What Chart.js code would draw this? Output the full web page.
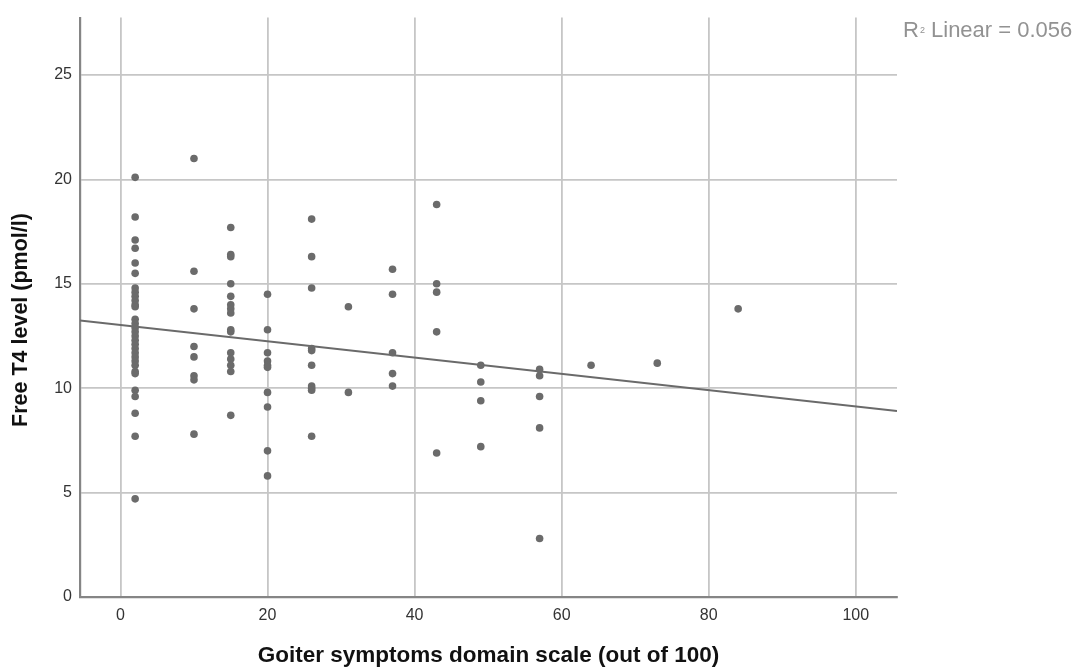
<!DOCTYPE html>
<html>
<head>
<meta charset="utf-8">
<script src="https://cdn.jsdelivr.net/npm/chart.js@4"></script>
<style>
  html, body { margin: 0; padding: 0; background: #ffffff; }
  #wrap { width: 1079px; height: 667px; position: relative; }
</style>
</head>
<body>
<div id="wrap"><canvas id="c" width="1079" height="667"></canvas></div>
<script>
// ---- data ----
const xTitle = 'Goiter symptoms domain scale (out of 100)';
const yTitle = 'Free T4 level (pmol/l)';
const xTicks = [0, 20, 40, 60, 80, 100];
const yTicks = [0, 5, 10, 15, 20, 25];
const xRange = [-5.5, 105.6];
const yRange = [0, 27.75];

const scoreLevels = [2, 10, 15, 20, 26, 31, 37, 43, 49, 57, 64, 73, 84];
const t4AtScore2  = [20.1, 18.2, 17.1, 16.7, 16.0, 15.5, 14.8, 14.6, 14.4, 14.2, 14.0, 13.9, 13.3, 13.1, 12.9, 12.7, 12.5, 12.3, 12.1, 11.9, 11.7, 11.5, 11.3, 11.1, 10.8, 10.7, 9.9, 9.6, 8.8, 7.7, 4.7];
const t4AtScore10 = [21.0, 15.6, 13.8, 12.0, 11.5, 10.6, 10.4, 7.8];
const t4AtScore15 = [17.7, 16.4, 16.3, 15.0, 14.4, 14.0, 13.8, 13.6, 12.8, 12.7, 11.7, 11.4, 11.1, 10.8, 8.7];
const t4AtScore20 = [14.5, 12.8, 11.7, 11.3, 11.1, 11.0, 9.8, 9.1, 7.0, 5.8];
const t4AtScore26 = [18.1, 16.3, 14.8, 11.9, 11.8, 11.1, 10.1, 10.0, 9.9, 7.7];
const t4AtScore31 = [13.9, 9.8];
const t4AtScore37 = [15.7, 14.5, 11.7, 10.7, 10.1];
const t4AtScore43 = [18.8, 15.0, 14.6, 12.7, 6.9];
const t4AtScore49 = [11.1, 10.3, 9.4, 7.2];
const t4AtScore57 = [10.9, 10.6, 9.6, 8.1, 2.8];
const t4AtScore64 = [11.1];
const t4AtScore73 = [11.2];
const t4AtScore84 = [13.8];
const t4Columns = [t4AtScore2, t4AtScore10, t4AtScore15, t4AtScore20, t4AtScore26, t4AtScore31,
                   t4AtScore37, t4AtScore43, t4AtScore49, t4AtScore57, t4AtScore64, t4AtScore73, t4AtScore84];

const fitIntercept = 13.03;
const fitSlope = -0.039;
const rSquaredText = '0.056';

// ---- build datasets ----
const points = [];
scoreLevels.forEach((s, i) => t4Columns[i].forEach(v => points.push({ x: s, y: v })));
const fitLine = xRange.map(x => ({ x: x, y: fitIntercept + fitSlope * x }));

const FONT = "'Liberation Sans', Arial, sans-serif";

const textPlugin = {
  id: 'texts',
  afterDraw(chart) {
    const ctx = chart.ctx;
    ctx.save();
    // R-squared annotation
    ctx.fillStyle = '#929292';
    ctx.textBaseline = 'alphabetic';
    ctx.textAlign = 'left';
    let x = 903, y = 37;
    ctx.font = '22px ' + FONT;
    ctx.fillText('R', x, y);
    x += ctx.measureText('R').width + 1;
    ctx.font = '9px ' + FONT;
    ctx.fillText('2', x, y - 4);
    x += ctx.measureText('2').width;
    ctx.font = '22px ' + FONT;
    ctx.fillText(' Linear = ' + rSquaredText, x, y);
    // y-axis title
    ctx.fillStyle = '#111111';
    ctx.font = 'bold 21.5px ' + FONT;
    ctx.textAlign = 'center';
    ctx.textBaseline = 'middle';
    ctx.translate(21, 320);
    ctx.rotate(-Math.PI / 2);
    ctx.fillText(yTitle, 0, 0);
    ctx.restore();
  }
};

new Chart(document.getElementById('c'), {
  type: 'scatter',
  data: {
    datasets: [
      {
        type: 'line',
        data: fitLine,
        borderColor: '#6a6a6a',
        borderWidth: 2,
        pointRadius: 0,
        fill: false,
        order: 2
      },
      {
        data: points,
        backgroundColor: '#6b6b6b',
        borderColor: '#6b6b6b',
        borderWidth: 0,
        pointRadius: 3.8,
        order: 1
      }
    ]
  },
  options: {
    responsive: false,
    animation: false,
    devicePixelRatio: 1,
    layout: { padding: { top: 12, right: 182, left: 0, bottom: 0 } },
    plugins: { legend: { display: false }, tooltip: { enabled: false } },
    scales: {
      x: {
        type: 'linear',
        min: xRange[0],
        max: xRange[1],
        afterBuildTicks: (s) => { s.ticks = xTicks.map(v => ({ value: v })); },
        afterFit: (s) => { s.height = 70; },
        grid: { color: '#c6c6c6', lineWidth: 1.8, drawTicks: false },
        border: { color: '#858585', width: 2.2 },
        ticks: { color: '#333333', font: { family: FONT, size: 16 }, padding: 9 },
        title: { display: true, text: xTitle, color: '#111111',
                 font: { family: FONT, size: 22.5, weight: 'bold', lineHeight: 1 }, padding: { top: 0, bottom: 0 } }
      },
      y: {
        type: 'linear',
        min: yRange[0],
        max: yRange[1],
        afterBuildTicks: (s) => { s.ticks = yTicks.map(v => ({ value: v })); },
        afterFit: (s) => { s.width = 80; },
        grid: { color: '#c6c6c6', lineWidth: 1.8, drawTicks: false },
        border: { color: '#858585', width: 2.2 },
        ticks: { color: '#333333', font: { family: FONT, size: 16 }, padding: 8 },
        title: { display: false }
      }
    }
  },
  plugins: [textPlugin]
});
</script>
</body>
</html>
